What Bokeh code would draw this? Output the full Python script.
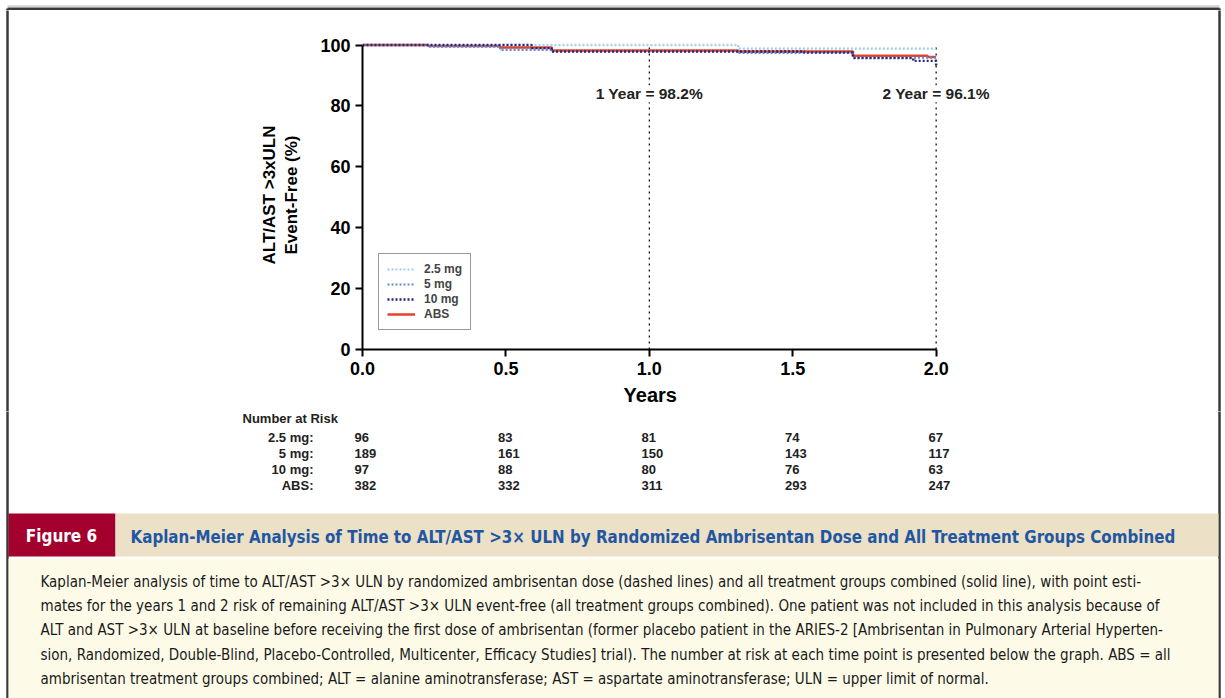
from bokeh.plotting import figure
from bokeh.models import Range1d, FixedTicker, Label, Legend, LegendItem, NumeralTickFormatter
from bokeh.layouts import column, row
from bokeh.embed import file_html
from bokeh.resources import INLINE
from bokeh.core.properties import value

# ---------------- data ----------------
year_ticks = [0.0, 0.5, 1.0, 1.5, 2.0]
pct_ticks = [0, 20, 40, 60, 80, 100]

t_25 = [0.0, 1.31, 2.0]
s_25 = [100.0, 98.8, 98.8]
t_5 = [0.0, 0.23, 0.48, 0.66, 1.31, 1.71, 2.0]
s_5 = [100.0, 99.5, 98.4, 97.9, 97.4, 95.9, 95.9]
t_10 = [0.0, 0.59, 0.66, 1.54, 1.71, 1.92, 2.0]
s_10 = [100.0, 99.0, 97.9, 97.6, 95.7, 94.8, 92.8]
t_abs = [0.0, 0.23, 0.48, 0.66, 1.31, 1.71, 1.97, 2.0]
s_abs = [100.0, 99.7, 99.2, 98.2, 97.9, 96.5, 96.1, 96.1]

series_names = ["2.5 mg", "5 mg", "10 mg", "ABS"]

milestone_years = [1.0, 2.0]
milestone_pct = [98.2, 96.1]

risk_times = [0.0, 0.5, 1.0, 1.5, 2.0]
risk_groups = ["2.5 mg:", "5 mg:", "10 mg:", "ABS:"]
risk_25 = [96, 83, 81, 74, 67]
risk_5 = [189, 161, 150, 143, 117]
risk_10 = [97, 88, 80, 76, 63]
risk_abs = [382, 332, 311, 293, 247]

fig_label = "Figure 6"
fig_title = ("Kaplan-Meier Analysis of Time to ALT/AST >3\u00d7 ULN by Randomized "
             "Ambrisentan Dose and All Treatment Groups Combined")
caption_lines = [
    "Kaplan-Meier analysis of time to ALT/AST >3\u00d7 ULN by randomized ambrisentan dose (dashed lines) and all treatment groups combined (solid line), with point esti-",
    "mates for the years 1 and 2 risk of remaining ALT/AST >3\u00d7 ULN event-free (all treatment groups combined). One patient was not included in this analysis because of",
    "ALT and AST >3\u00d7 ULN at baseline before receiving the first dose of ambrisentan (former placebo patient in the ARIES-2 [Ambrisentan in Pulmonary Arterial Hyperten-",
    "sion, Randomized, Double-Blind, Placebo-Controlled, Multicenter, Efficacy Studies] trial). The number at risk at each time point is presented below the graph. ABS = all",
    "ambrisentan treatment groups combined; ALT = alanine aminotransferase; AST = aspartate aminotransferase; ULN = upper limit of normal.",
]

# ---------------- layout constants ----------------
W, H = 1225, 698
STRIP = 10
MID_BOTTOM = 411
AX_X0 = 362          # page pixel of year 0
PX_PER_YEAR = 287
BORDER = "#3a3a3a"
ARIAL = value("Liberation Sans")
COND = value("DejaVu Sans Condensed")


def blank(width, height, xr, yr):
    f = figure(width=width, height=height, x_range=Range1d(*xr), y_range=Range1d(*yr),
               x_axis_type=None, y_axis_type=None, output_backend="svg",
               toolbar_location=None, min_border=0)
    f.outline_line_color = None
    f.background_fill_color = "white"
    f.border_fill_color = "white"
    f.frame_align = False
    return f


# ---------------- border strips ----------------
top = blank(W, STRIP, (0, W), (STRIP, 0))
top.segment(x0=[7], y0=[3.5], x1=[1219], y1=[3.5], line_color="#b0b0b0", line_width=1)
top.segment(x0=[7, 7, 1219], y0=[6.3, 6, 6], x1=[1219, 7, 1219], y1=[6.3, STRIP + 5, STRIP + 5],
            line_color=BORDER, line_width=2.5)
left = blank(STRIP, MID_BOTTOM - STRIP, (0, STRIP), (MID_BOTTOM, STRIP))
left.segment(x0=[7], y0=[0], x1=[7], y1=[MID_BOTTOM + 10], line_color=BORDER, line_width=2.5)
right = blank(STRIP, MID_BOTTOM - STRIP, (W - STRIP, W), (MID_BOTTOM, STRIP))
right.segment(x0=[1219], y0=[0], x1=[1219], y1=[MID_BOTTOM + 10], line_color=BORDER, line_width=2.5)

# ---------------- KM figure ----------------
p = figure(width=W - 2 * STRIP, height=MID_BOTTOM - STRIP,
           x_range=Range1d(0, 2.2), y_range=Range1d(0, 101.5),
           output_backend="svg", toolbar_location=None,
           min_border_left=AX_X0 - STRIP, min_border_right=222,
           min_border_top=30, min_border_bottom=62)
p.frame_align = False
p.xgrid.visible = False
p.ygrid.visible = False
p.outline_line_color = None
p.background_fill_color = "white"
p.border_fill_color = "white"

for ax in (p.xaxis[0], p.yaxis[0]):
    ax.axis_line_width = 2
    ax.axis_line_color = "black"
    ax.major_tick_line_width = 2
    ax.major_tick_out = 7
    ax.major_tick_in = 0
    ax.minor_tick_out = 0
    ax.minor_tick_in = 0
    ax.major_label_text_font = "Liberation Sans"
    ax.major_label_text_font_style = "bold"
    ax.major_label_text_font_size = "18px"
    ax.major_label_text_color = "black"
    ax.axis_label_text_font = "Liberation Sans"
    ax.axis_label_text_font_style = "bold"
    ax.axis_label_text_color = "black"

p.xaxis.ticker = FixedTicker(ticks=year_ticks)
p.xaxis.formatter = NumeralTickFormatter(format="0.0")
p.xaxis.bounds = (year_ticks[0], year_ticks[-1])
# trailing no-break spaces shift the centred title back over the 0-2 year axis
p.xaxis.axis_label = "Years" + "\u00a0" * 10
p.xaxis.axis_label_text_font_size = "20px"
p.xaxis.major_label_standoff = 5
p.xaxis.axis_label_standoff = 6

p.yaxis.ticker = FixedTicker(ticks=pct_ticks)
p.yaxis.bounds = (pct_ticks[0], pct_ticks[-1])
p.yaxis.axis_label = "ALT/AST >3xULN\nEvent-Free (%)"
p.yaxis.axis_label_text_font_size = "17px"
p.yaxis.major_label_standoff = 5
p.yaxis.axis_label_standoff = 16

# milestone dashed lines
p.segment(x0=milestone_years, y0=[pct_ticks[0]] * len(milestone_years),
          x1=milestone_years, y1=[pct_ticks[-1]] * len(milestone_years),
          line_color="black", line_width=1.2, line_dash="2 4")

r_abs = p.step(t_abs, s_abs, mode="after", line_color="#e8402a", line_width=2.5)
r_25 = p.step(t_25, s_25, mode="after", line_color="#9ecfe8", line_width=2.2, line_dash="2 2")
r_5 = p.step(t_5, s_5, mode="after", line_color="#5b8ad6", line_width=2.2, line_dash="2 2")
r_10 = p.step(t_10, s_10, mode="after", line_color="#23277a", line_width=2.4, line_dash="2 2")

for yr, pc in zip(milestone_years, milestone_pct):
    p.add_layout(Label(x=yr, y=84, text=f"{int(yr)} Year = {pc}%", text_align="center",
                       text_baseline="middle", text_font="Liberation Sans", text_font_style="bold",
                       text_font_size="15.5px", text_color="#222222",
                       background_fill_color="white", background_fill_alpha=1.0))

legend = Legend(items=[LegendItem(label=series_names[0], renderers=[r_25]),
                       LegendItem(label=series_names[1], renderers=[r_5]),
                       LegendItem(label=series_names[2], renderers=[r_10]),
                       LegendItem(label=series_names[3], renderers=[r_abs])],
                location=(16, 19), border_line_color="#333333", border_line_width=1.5,
                label_text_font="Liberation Sans", label_text_font_style="bold",
                label_text_font_size="12px", glyph_width=28, glyph_height=12,
                label_height=14, label_standoff=9, spacing=1, padding=8, margin=0,
                background_fill_color="white", background_fill_alpha=1.0)
p.add_layout(legend, "center")

# ---------------- bottom figure: risk table + caption ----------------
q = blank(W, H - MID_BOTTOM, (0, W), (H, MID_BOTTOM))
q.extra_x_ranges = {"yrs": Range1d(-AX_X0 / PX_PER_YEAR, (W - AX_X0) / PX_PER_YEAR)}

# page border sides
q.segment(x0=[7, 1219], y0=[MID_BOTTOM - 10, MID_BOTTOM - 10], x1=[7, 1219], y1=[H + 10, H + 10],
          line_color=BORDER, line_width=2.5)

TBL = dict(text_font=ARIAL, text_font_style="bold", text_font_size="13px",
           text_color="#222222", text_baseline="middle")
q.text(x=[242], y=[418], text=["Number at Risk"], text_align="left", **TBL)
row_y = [437, 453, 469, 485]
q.text(x=[313] * 4, y=row_y, text=risk_groups, text_align="right", **TBL)
for vals, yy in zip([risk_25, risk_5, risk_10, risk_abs], row_y):
    q.text(x=risk_times, y=[yy] * len(risk_times), text=[str(v) for v in vals],
           x_range_name="yrs", x_offset=-8, text_align="left", **TBL)

# title bar
q.quad(left=[8], right=[115], top=[513], bottom=[556], fill_color="#a3002e", line_color=None)
q.quad(left=[115], right=[1218], top=[513], bottom=[556], fill_color="#ece0c6", line_color=None)
q.text(x=[61], y=[535], text=[fig_label], text_align="center", text_baseline="middle",
       text_font=COND, text_font_style="bold", text_font_size="17px", text_color="white")
q.text(x=[130], y=[536], text=[fig_title], text_align="left", text_baseline="middle",
       text_font=COND, text_font_style="bold", text_font_size="16.8px", text_color="#1f57a3")

# caption
q.quad(left=[8], right=[1218], top=[558], bottom=[H], fill_color="#fdfbe8", line_color=None)
cap_y = [581, 605, 629, 654, 678]
q.text(x=[40] * len(caption_lines), y=cap_y, text=caption_lines, text_align="left",
       text_baseline="middle", text_font=COND, text_font_size="15px", text_color="#1a1a1a")

layout = column(top, row(left, p, right, spacing=0), q, spacing=0)
open("out.html", "w").write(file_html(layout, INLINE))
